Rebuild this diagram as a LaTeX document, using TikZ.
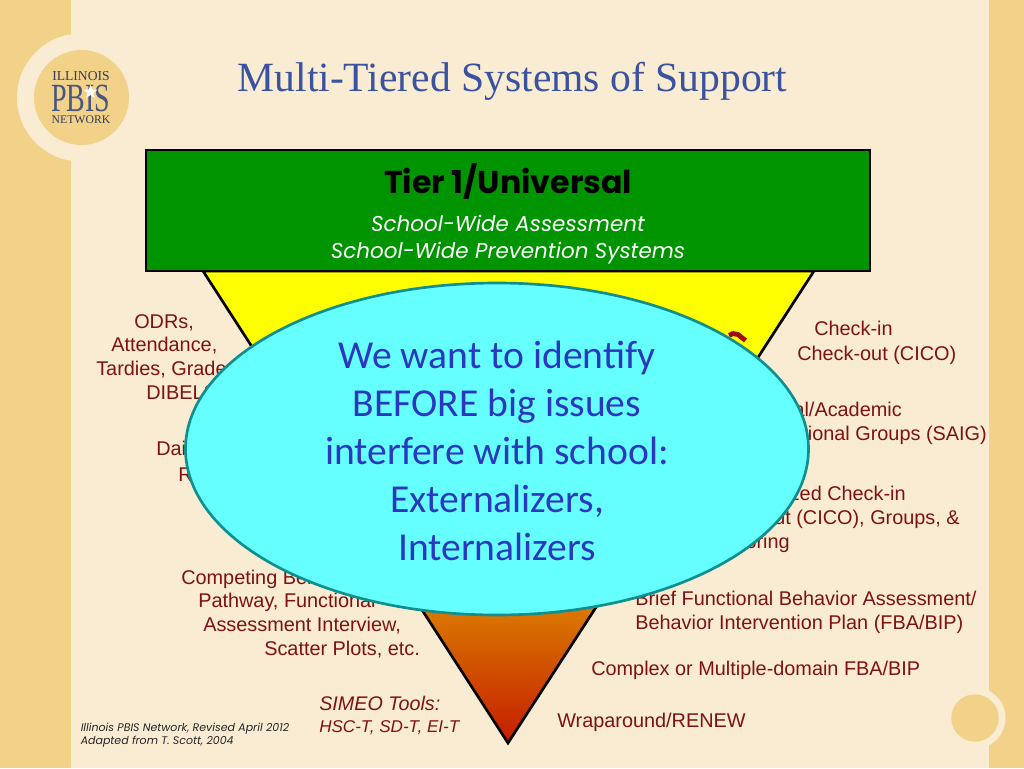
\documentclass[tikz,border=0pt]{standalone}
\usepackage{fontspec}
\setmainfont{Liberation Sans}
\newfontfamily\titlefont{Liberation Serif}
\newfontfamily\calfont{Carlito}
\newfontfamily\gothfont{Poppins}
\usetikzlibrary{shapes.geometric}
\definecolor{cream}{HTML}{F9ECD2}
\definecolor{band}{HTML}{F2D288}
\definecolor{titleblue}{HTML}{3A52A0}
\definecolor{dred}{HTML}{7F1212}
\definecolor{tgreen}{HTML}{009400}
\definecolor{elfill}{HTML}{66FFFF}
\definecolor{elline}{HTML}{0F8F8F}
\definecolor{eltext}{HTML}{2A38C0}
\definecolor{logoblue}{HTML}{4A5580}
\definecolor{marked}{HTML}{A00C0C}
\definecolor{fadeA}{HTML}{C41C00}
\definecolor{fadeB}{HTML}{D87000}
\definecolor{fadeC}{HTML}{FFFF00}
\pgfdeclareverticalshading{tierfade}{100bp}{color(0bp)=(fadeA); color(25bp)=(fadeA); color(38bp)=(fadeB); color(61bp)=(fadeC); color(100bp)=(fadeC)}
\tikzset{
 lab/.style={text=dred,font=\fontsize{14.9pt}{18pt}\selectfont,inner sep=0pt},
 labl/.style={lab,anchor=base west},
 labe/.style={lab,anchor=base east},
 tiersubtext/.style={inner sep=0pt,anchor=base,text=white,font=\gothfont\itshape\fontsize{16.1pt}{21pt}\selectfont},
 foottext/.style={inner sep=0pt,anchor=base west,text=black!85,font=\gothfont\itshape\fontsize{8.25pt}{10.6pt}\selectfont},
}
\begin{document}
\begin{tikzpicture}[x=0.75pt,y=-0.75pt]
\useasboundingbox (0,0) rectangle (1024,768);
\fill[cream] (0,0) rectangle (1024,768);
\fill[band] (0,0) rectangle (70.5,768);
\fill[band] (989,0) rectangle (1024,768);
% logo
\fill[cream] (81,97.5) circle (64);
\fill[cream] (70.5,35) rectangle (100,160);
\fill[band] (81.5,97.5) circle (47.5);
\node[inner sep=0pt,text=logoblue!70!black,font=\titlefont\fontsize{10.2pt}{10pt}\selectfont] (logo1) at (81,76.5) {ILLINOIS};
\node[inner sep=0pt,anchor=base,xscale=0.7,text=logoblue,font=\titlefont\fontsize{30pt}{30pt}\selectfont] (logo2) at (81,111.5) {PBIS};
\node[inner sep=0pt,text=logoblue!70!black,font=\titlefont\fontsize{8.8pt}{10pt}\selectfont] (logo3) at (81,119.5) {NETWORK};
\node[star,star points=5,star point ratio=2.4,fill=white,inner sep=0pt,minimum size=11pt] (logostar) at (90.5,92) {};
% small ornament
\fill[cream] (975,718) circle (30.5);
\fill[band] (975,718) circle (23.7);
% title
\node[inner sep=0pt,anchor=base,text=titleblue,font=\titlefont\fontsize{31.2pt}{34pt}\selectfont] (title) at (512.5,91.7) {Multi-Tiered Systems of Support};
% triangle
\path[draw=black,line width=2pt,shading=tierfade] (203,271) -- (814,271) -- (508,743) -- cycle;
\draw[marked,line width=3.6pt,line join=round] (729,335.5) -- (733,333.5) -- (738,334.5) -- (745.5,340.5);
% tier box
\node[draw=black,line width=1.5pt,fill=tgreen,minimum width=724pt*0.75,minimum height=121pt*0.75,inner sep=0pt] (tier) at (508,210) {};
\node[inner sep=0pt,anchor=base,text=black,font=\gothfont\bfseries\fontsize{23.7pt}{26pt}\selectfont] (tierhead) at (508,193) {Tier 1/Universal};
\node[tiersubtext] (tiersuba) at (508,231.7) {School-Wide Assessment};
\node[tiersubtext] (tiersubb) at (508,258) {School-Wide Prevention Systems};
% left labels
\node[labl] (l1a) at (134,328) {ODRs,};
\node[labl] (l1b) at (111,351.5) {Attendance,};
\node[labl] (l1c) at (96,375.5) {Tardies, Grades,};
\node[labl] (l1d) at (146,399.5) {DIBELS};
\node[labl] (l2a) at (156,455.7) {Daily};
\node[labl] (l2b) at (178,481.7) {Reports};
\node[labl] (l3) at (181,584) {Competing Behavior};
\node[labl] (l4) at (198,607.7) {Pathway, Functional};
\node[labl] (l5) at (203,631.7) {Assessment Interview,};
\node[labl] (l6) at (264,655.7) {Scatter Plots, etc.};
% right labels
\node[labl] (r1a) at (814,335.7) {Check-in};
\node[labl] (r1b) at (797,360) {Check-out (CICO)};
\node[labe] (r2a) at (902,416) {Social/Academic};
\node[labe] (r2b) at (987,440) {Instructional Groups (SAIG)};
\node[labe] (r3a) at (906,500) {Individualized Check-in};
\node[labe] (r3b) at (960,524.5) {Check-out (CICO), Groups, \&};
\node[labe] (r3c) at (790,548.5) {Mentoring};
\node[labl] (r4a) at (635,605) {Brief Functional Behavior Assessment/};
\node[labl] (r4b) at (635,629) {Behavior Intervention Plan (FBA/BIP)};
\node[labl] (r5) at (591,675) {Complex or Multiple-domain FBA/BIP};
\node[labl] (r6) at (557,727.7) {Wraparound/RENEW};
\node[lab,anchor=base west,font=\itshape\fontsize{14.8pt}{18pt}\selectfont] (s1) at (319,710.5) {SIMEO Tools:};
\node[lab,anchor=base west,font=\itshape\fontsize{12.8pt}{18pt}\selectfont] (s2) at (319,732.7) {HSC-T, SD-T, EI-T};
\node[foottext] (foota) at (80.5,731) {Illinois PBIS Network, Revised April 2012};
\node[foottext] (footb) at (80.5,744.5) {Adapted from T. Scott, 2004};
% ellipse
\node[ellipse,draw=elline,line width=2pt,fill=elfill,minimum width=623pt*0.75,minimum height=332pt*0.75,inner sep=0pt] (el) at (497,449) {};
\node[inner sep=0pt,text=eltext,align=center,font=\calfont\fontsize{29.7pt}{36pt}\selectfont] (eltxt) at (497,451) {We want to identify\\BEFORE big issues\\interfere with school:\\Externalizers,\\Internalizers};
\end{tikzpicture}
\end{document}
